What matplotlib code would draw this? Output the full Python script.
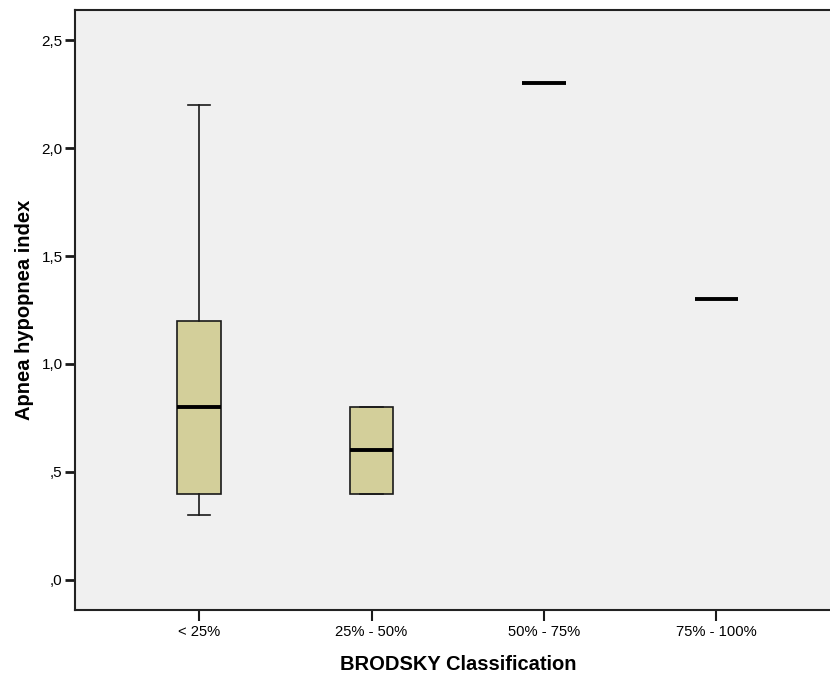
import matplotlib
matplotlib.use("Agg")
import matplotlib.pyplot as plt
from matplotlib.ticker import FuncFormatter

# Five-number summaries per Brodsky class
categories = ["< 25%", "25% - 50%", "50% - 75%", "75% - 100%"]
whisker_low = [0.3, 0.4, 2.3, 1.3]
q1 = [0.4, 0.4, 2.3, 1.3]
median = [0.8, 0.6, 2.3, 1.3]
q3 = [1.2, 0.8, 2.3, 1.3]
whisker_high = [2.2, 0.8, 2.3, 1.3]

y_ticks = [0.0, 0.5, 1.0, 1.5, 2.0, 2.5]

plt.rcParams["font.family"] = ["Liberation Sans", "DejaVu Sans"]

W, H = 830, 675
fig = plt.figure(figsize=(W / 100, H / 100), dpi=100)
left, right, top, bottom = 75, 840.5, 10, 610
ax = fig.add_axes([left / W, 1 - bottom / H, (right - left) / W, (bottom - top) / H])
ax.set_facecolor("#F0F0F0")

stats = []
for i, name in enumerate(categories):
    stats.append(dict(label=name, whislo=whisker_low[i], q1=q1[i], med=median[i],
                      q3=q3[i], whishi=whisker_high[i], fliers=[]))

positions = list(range(1, len(categories) + 1))
ax.bxp(stats, positions=positions, widths=0.25, patch_artist=True,
       showfliers=False,
       boxprops=dict(facecolor="#D3CF9A", edgecolor="#1a1a1a", linewidth=1.2),
       whiskerprops=dict(color="#1a1a1a", linewidth=1.2),
       capprops=dict(color="#1a1a1a", linewidth=1.2),
       capwidths=0.128,
       medianprops=dict(color="black", linewidth=2.8, solid_capstyle="butt"))

ax.set_xlim(0.281, 4.719)
ax.set_ylim(-0.139, 2.639)
ax.set_xticks(positions)
ax.set_xticklabels(categories, fontsize=10.6)
ax.set_yticks(y_ticks)


def spss_fmt(v, _pos):
    s = f"{v:.1f}".replace(".", ",")
    if s.startswith("0"):
        s = s[1:]
    return s


ax.yaxis.set_major_formatter(FuncFormatter(spss_fmt))
ax.tick_params(axis="y", labelsize=11, length=7, width=2, color="#1a1a1a", pad=2)
ax.tick_params(axis="x", length=8, width=1.5, color="#1a1a1a", pad=3)

for side in ["left", "top", "bottom"]:
    ax.spines[side].set_color("#222222")
    ax.spines[side].set_linewidth(1.5)
ax.spines["right"].set_visible(False)

ax.set_xlabel("BRODSKY Classification", fontsize=14.5, fontweight="bold", labelpad=11)
ax.set_ylabel("Apnea hypopnea index", fontsize=14.5, fontweight="bold", labelpad=5)

fig.savefig("out.png", dpi=100)
